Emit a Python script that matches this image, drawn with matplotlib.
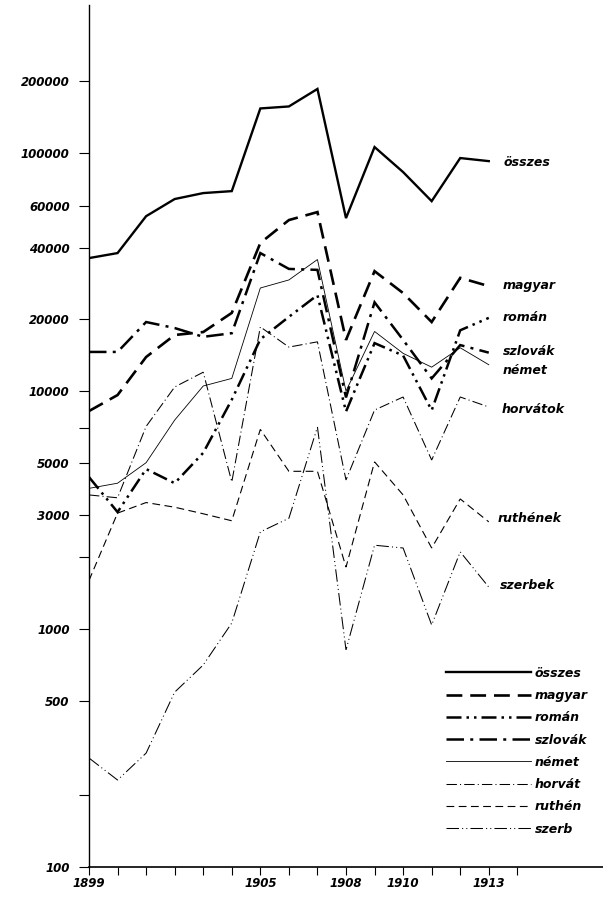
import matplotlib
matplotlib.use("Agg")
import matplotlib.pyplot as plt

# ---------------- data ----------------
years = list(range(1899, 1914))
osszes = [36200, 38000, 54300, 64100, 67900, 69200, 154000, 157000, 186000,
          53300, 106000, 83200, 62800, 95300, 92500]
magyar = [8240, 9620, 13900, 17200, 17700, 21300, 41900, 52300, 56500,
          16400, 31900, 25800, 19500, 29900, 27600]
roman = [4350, 3100, 4700, 4100, 5500, 9200, 16500, 20500, 25300,
         8200, 15900, 14100, 8300, 18000, 20300]
szlovak = [14600, 14600, 19500, 18400, 16900, 17500, 38000, 32600, 32300,
           9400, 23600, 16400, 11300, 15600, 14500]
nemet = [3900, 4100, 5000, 7550, 10500, 11300, 27100, 29300, 35700,
         10000, 17800, 14400, 12600, 15200, 12900]
horvat = [3660, 3560, 7100, 10400, 12000, 4150, 18600, 15300, 16100,
          4230, 8320, 9440, 5130, 9440, 8570]
ruthen = [1600, 3070, 3400, 3250, 3050, 2850, 6900, 4600, 4600,
          1820, 5040, 3660, 2190, 3520, 2820]
szerb = [287, 232, 301, 543, 706, 1060, 2560, 2920, 7060,
         817, 2250, 2190, 1040, 2110, 1500]

series = [osszes, magyar, roman, szlovak, nemet, horvat, ruthen, szerb]
line_labels = ["összes", "magyar", "román", "szlovák", "német",
               "horvátok", "ruthének", "szerbek"]
legend_labels = ["összes", "magyar", "román", "szlovák", "német",
                 "horvát", "ruthén", "szerb"]

ytick_vals = [100, 500, 1000, 3000, 5000, 10000, 20000, 40000, 60000,
              100000, 200000]
ytick_minor = [200, 2000, 7000]
xtick_labels = {1899: "1899", 1905: "1905", 1908: "1908", 1910: "1910", 1913: "1913"}

# ---------------- styles / layout ----------------
styles = [
    dict(lw=1.7, ls="-"),
    dict(lw=1.9, ls=(0, (6, 3))),
    dict(lw=1.8, ls=(0, (6, 2, 1, 2, 1, 2))),
    dict(lw=1.8, ls=(0, (7, 2.5, 1.2, 2.5))),
    dict(lw=0.6, ls="-"),
    dict(lw=0.75, ls=(0, (10, 3, 1, 3))),
    dict(lw=0.8, ls=(0, (7, 4))),
    dict(lw=0.75, ls=(0, (12, 3, 1, 3, 1, 3))),
]
label_pos = [(1913.5, 91600), (1913.5, 27900), (1913.5, 20300), (1913.5, 14700),
             (1913.5, 12250), (1913.45, 8400), (1913.3, 2900), (1913.4, 1520)]

W, H = 603, 899
fig = plt.figure(figsize=(W / 100, H / 100), dpi=100)
ax = fig.add_axes([89 / W, (H - 867) / H, (W - 89) / W, (867 - 5) / H])

fnt = dict(fontweight="bold", style="italic", family="DejaVu Sans")

handles = []
for vals, st in zip(series, styles):
    (ln,) = ax.plot(years, vals, color="black", linestyle=st["ls"], linewidth=st["lw"],
                    solid_joinstyle="miter", dash_joinstyle="miter")
    handles.append(ln)

for (xp, yp), txt in zip(label_pos, line_labels):
    ax.text(xp, yp, txt, fontsize=9, va="center", ha="left", **fnt)

ax.set_yscale("log")
ax.set_ylim(100, 419000)
ax.set_xlim(1899, 1917)

ax.set_yticks(ytick_vals)
ax.set_yticklabels([str(v) for v in ytick_vals], **fnt, fontsize=8.5)
ax.set_yticks(ytick_minor, minor=True)
ax.yaxis.set_minor_formatter(plt.NullFormatter())
ax.tick_params(axis="y", which="both", direction="out", length=7, width=0.8, pad=7)

ax.set_xticks(list(range(1899, 1915)))
ax.set_xticklabels([xtick_labels.get(y, "") for y in range(1899, 1915)], **fnt, fontsize=8.5)
ax.tick_params(axis="x", which="both", direction="out", length=6, width=0.8, pad=1.5)

for s in ["top", "right"]:
    ax.spines[s].set_visible(False)
ax.spines["left"].set_linewidth(1.0)
ax.spines["bottom"].set_linewidth(1.2)

leg = ax.legend(handles, legend_labels, loc="upper left",
                bbox_to_anchor=(0.685, 0.238), frameon=False,
                handlelength=6.8, handletextpad=0.3, labelspacing=0.74,
                borderaxespad=0, prop=dict(weight="bold", style="italic", size=9))

fig.savefig("out.png", dpi=100)
